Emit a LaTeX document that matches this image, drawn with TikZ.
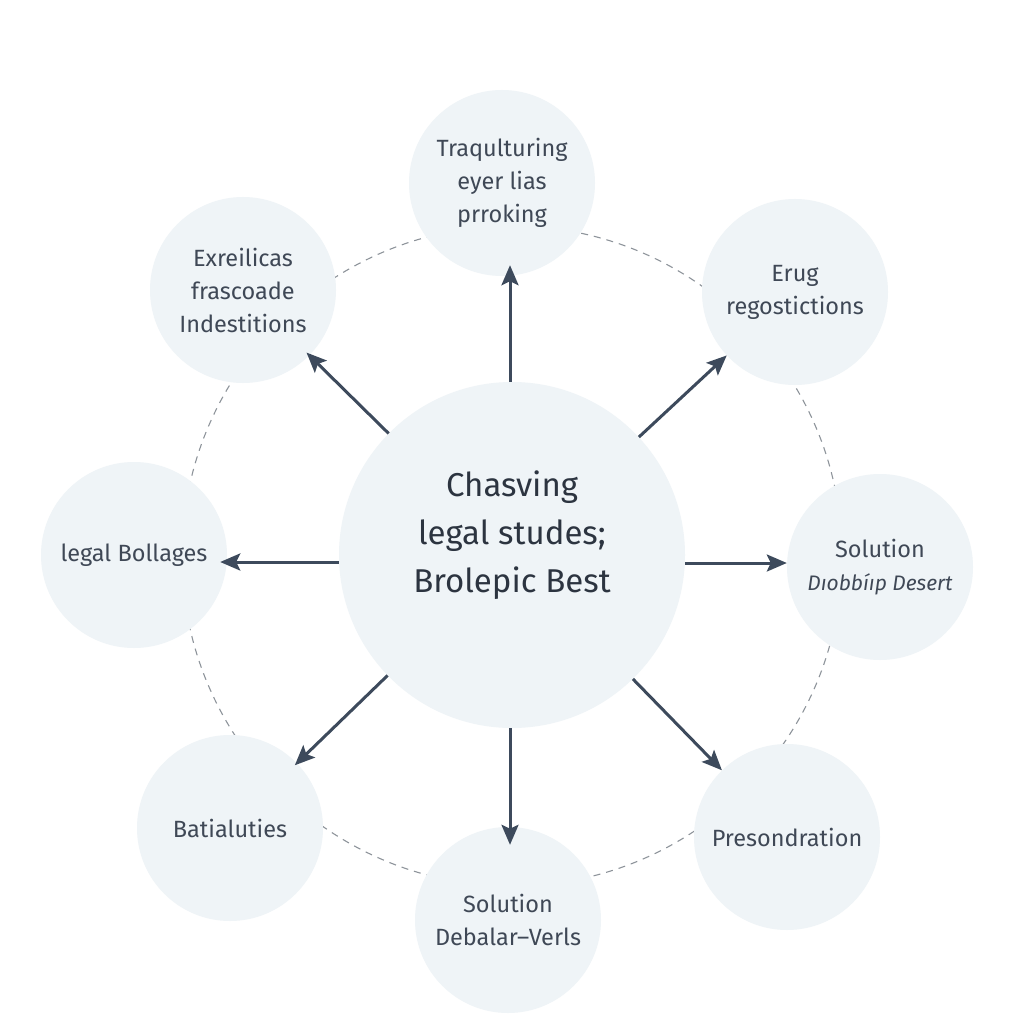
\documentclass[tikz,border=0pt]{standalone}
\usepackage{fontspec}
\setmainfont{Fira Sans}
\usetikzlibrary{arrows.meta}
\definecolor{bubble}{HTML}{EFF4F7}
\definecolor{ink}{HTML}{3F4856}
\definecolor{inkdark}{HTML}{2C3440}
\definecolor{arrowc}{HTML}{3D4A5C}
\definecolor{dashc}{HTML}{8E949B}
\tikzset{
  sat/.style={circle, fill=bubble, minimum size=186pt, inner sep=0pt, align=center,
    text=ink, font=\fontsize{23.5}{33}\selectfont},
  hub/.style={circle, fill=bubble, minimum size=346pt, inner sep=0pt},
  hubtext/.style={align=center, text=inkdark, font=\fontsize{33}{48}\selectfont},
  arr/.style={draw=arrowc, line width=3pt, -{Stealth[length=20pt,width=17pt,inset=4pt]}},
  ring/.style={draw=dashc, line width=1.1pt, dash pattern=on 7pt off 6pt}
}
\begin{document}
\begin{tikzpicture}[x=1pt,y=-1pt]
\useasboundingbox[fill=white] (0,0) rectangle (1024,1024);
\coordinate (o) at (512,556);
\draw[ring] (o) circle[radius=330];
\node[hub] (c) at (512,555) {};
\node[hubtext] (ct) at (512,535) {Chasving\\legal studes;\\Brolepic Best};
\node[sat] (t) at (502,183) {Traqulturing\\eyer lias\\prroking};
\node[sat] (tl) at (243,290) {Exreilicas\\frascoade\\Indestitions};
\node[sat] (tr) at (795,292) {Erug\\regostictions};
\node[sat] (l) at (134,555) {legal Bollages};
\node[sat] (r) at (880,567) {Solution\\{\fontsize{21}{33}\selectfont\itshape Dıobbíıp Desert}};
\node[sat] (bl) at (230,828) {Batialuties};
\node[sat] (br) at (787,837) {Presondration};
\node[sat] (b) at (508,920) {Solution\\Debalar–Verls};
\draw[arr, shorten >=-11pt] ([xshift=-2pt]c.90) -- ([xshift=-2pt]t.270 -| c.90);
\draw[arr, shorten >=-4pt] (c) -- (tl);
\draw[arr, shorten >=0pt] (c) -- (tr);
\draw[arr, shorten >=-7pt] ([yshift=-7pt]c.180) -- ([yshift=-7pt]c.180 -| l.0);
\draw[arr, shorten >=0pt] ([yshift=-8pt]c.0) -- ([yshift=-8pt]c.0 -| r.180);
\draw[arr, shorten >=-3pt] (c) -- (bl);
\draw[arr, shorten >=0pt] (c) -- (br);
\draw[arr, shorten >=-18pt] ([xshift=-2pt]c.270) -- ([xshift=-2pt]b.90 -| c.270);
\end{tikzpicture}
\end{document}
